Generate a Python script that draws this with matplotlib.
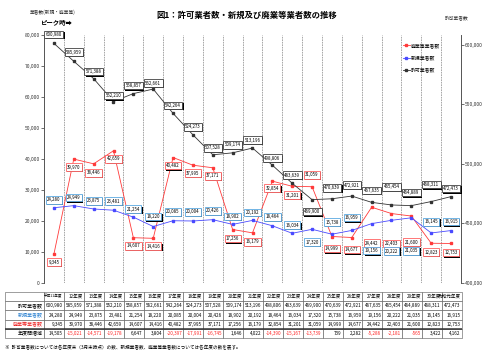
import numpy as np
import matplotlib
matplotlib.use('Agg')
import matplotlib.pyplot as plt
from matplotlib import patheffects
from matplotlib.ticker import FuncFormatter

plt.rcParams['font.family'] = ['Noto Sans CJK JP', 'DejaVu Sans']

years = ['平成11年度', '12年度', '13年度', '14年度', '15年度', '16年度', '17年度', '18年度',
         '19年度', '20年度', '21年度', '22年度', '23年度', '24年度', '25年度', '26年度',
         '27年度', '28年度', '29年度', '30年度', '令和元年度']
kyoka = [600980, 585959, 571388, 552210, 558857, 562661, 542264, 524273, 507528, 509174, 513196,
         498806, 483639, 469900, 470639, 472921, 467635, 465454, 464889, 468311, 472473]
shinki = [24280, 24949, 23875, 23481, 21254, 18220, 20085, 20004, 20426, 18902, 20192,
          18464, 16034, 17320, 15738, 16959, 19156, 20222, 21035, 16145, 16915]
haigyo = [9345, 39970, 38446, 42659, 14607, 14416, 40482, 37995, 37171, 17256, 16179,
          32854, 31201, 31059, 14999, 14677, 24442, 22403, 21600, 12823, 12753]
zougen = [14505, -15021, -14571, -19178, 6647, 3804, -20397, -17991, -16745, 1646, 4022,
          -14390, -15167, -13739, 739, 2282, -5286, -2181, -565, 3422, 4162]

# label offsets in pixels (+ above the point, - below)
kyoka_off = [9, 9, 7, 6, 8, 6, 8, 8, 7, 8, 8, 7, 8, -12, 11, 11, 12, 18, 13, 17, 8]
shinki_off = [8, 8, 8, 9, 8, 10, 9, 9, 9, 8, 8, 9, 8, -13, 12, 13, -27, -31, -33, 11, 9]
haigyo_off = [-8, -8, -9, -8, -8, -8, -8, -8, -8, -9, -9, -7, -9, 12, -12, -12, -36, -30, -26, -9, -9]

RED = '#ff3a3a'
BLUE = '#4a4aff'
BLACK = '#333333'

fig = plt.figure(figsize=(5, 3.54), dpi=100)
ax = fig.add_axes([44 / 500, 1 - 283 / 354, 417 / 500, 248 / 354])
x = np.arange(len(years))
ax.set_xlim(-0.5, len(years) - 0.5)
ax.set_ylim(0, 80000)
ax2 = ax.twinx()
ax2.set_ylim(400000, 608000)

# vertical separators between years
ax.set_xticks(x[:-1] + 0.5)
ax.set_xticklabels([])
ax.tick_params(axis='x', length=0)
ax.grid(axis='x', color='#9a9a9a', lw=0.6, ls=(0, (2, 1)))

fmt = FuncFormatter(lambda v, p: f'{v:,.0f}')
ax.set_yticks(np.arange(0, 80001, 10000))
ax.yaxis.set_major_formatter(fmt)
ax.tick_params(axis='y', labelsize=3.6, length=2, width=0.5, pad=1, colors='#333333')
ax2.set_yticks(np.arange(400000, 600001, 50000))
ax2.yaxis.set_major_formatter(fmt)
ax2.tick_params(axis='y', labelsize=3.6, length=2, width=0.5, pad=1, colors='#333333')
for a in (ax, ax2):
    a.spines['top'].set_visible(False)
    a.spines['bottom'].set_visible(False)
    a.spines['left'].set_color('#555555')
    a.spines['right'].set_color('#555555')
    a.spines['left'].set_linewidth(0.6)
    a.spines['right'].set_linewidth(0.6)

l_red, = ax.plot(x, haigyo, '-s', color=RED, lw=0.6, ms=1.6, label='廃業等業者数')
l_blue, = ax.plot(x, shinki, '-s', color=BLUE, lw=0.6, ms=1.6, label='新規業者数')
l_black, = ax2.plot(x, kyoka, '-s', color=BLACK, lw=0.6, ms=1.6, label='許可業者数')


def add_labels(a, vals, offs, ec):
    for xi, v, off in zip(x, vals, offs):
        t = a.annotate(f'{v:,}', (xi, v), xytext=(0, off), textcoords='offset pixels',
                       ha='center', va='center', fontsize=3.2, zorder=6,
                       bbox=dict(boxstyle='square,pad=0.3', fc='white', ec=ec, lw=0.6))
        t.get_bbox_patch().set_path_effects(
            [patheffects.withSimplePatchShadow(offset=(0.9, -0.9), shadow_rgbFace='black', alpha=1.0)])


add_labels(ax, haigyo, haigyo_off, '#ff6060')
add_labels(ax, shinki, shinki_off, '#5aa8e0')
add_labels(ax2, kyoka, kyoka_off, '#404040')

ax2.legend([l_red, l_blue, l_black], ['廃業等業者数', '新規業者数', '許可業者数'],
           loc='upper left', bbox_to_anchor=(403 / 500, 1 - 43 / 354), bbox_transform=fig.transFigure,
           frameon=False, fontsize=3.5, handlelength=1.4, handletextpad=0.3, labelspacing=1.5,
           borderpad=0, borderaxespad=0)

fig.text(0.494, 1 - 15 / 354, '図1：許可業者数・新規及び廃業等業者数の推移', ha='center', va='center',
         fontsize=6, fontweight='bold')
fig.text(30 / 500, 1 - 12 / 354, '業者数(新規・廃業等)', fontsize=3.4, va='center', color='#333333')
fig.text(40 / 500, 1 - 23 / 354, 'ピーク時➡', fontsize=4.6, va='center', fontweight='bold')
fig.text(445 / 500, 1 - 18 / 354, '許可業者数', fontsize=3.4, va='center', color='#333333')

# data table under the chart
tab_ax = fig.add_axes([5 / 500, 1 - 338 / 354, 457 / 500, 46 / 354])
tab_ax.axis('off')
rows = [[''] + years,
        ['許可業者数'] + [f'{v:,}' for v in kyoka],
        ['新規業者数'] + [f'{v:,}' for v in shinki],
        ['廃業等業者数'] + [f'{v:,}' for v in haigyo],
        ['年度間増減'] + [f'{v:,}' for v in zougen]]
colw = [39 / 457] + [417 / 21 / 457] * len(years)
table = tab_ax.table(cellText=rows, colWidths=colw, bbox=[0, 0, 1, 1], cellLoc='right')
table.auto_set_font_size(False)
table.set_fontsize(3.3)
row_colors = {2: '#2a80d0', 3: '#ee2020'}
for (r, c), cell in table.get_celld().items():
    cell.set_linewidth(0.4)
    cell.set_edgecolor('#555555')
    cell.PAD = 0.06
    if c == 0:
        cell._loc = 'left'
        cell.PAD = 0.03
        cell.get_text().set_color(row_colors.get(r, 'black'))
        cell.get_text().set_fontsize(3.6)
    if r == 0:
        cell._loc = 'center'
        cell.get_text().set_fontsize(2.6 if c == 1 else 3.3)
    if r == 4 and c > 0 and zougen[c - 1] < 0:
        cell.get_text().set_color('#ff2020')
tab_ax.axhline(0.2, color='#333333', lw=1.1)

fig.text(5 / 500, 1 - 347 / 354,
         '※  許可業者数については各年度末（3月末時点）の数、新規業者数、廃業等業者数については各年度の数を表す。',
         fontsize=3.3, va='center')

fig.savefig('out.png', dpi=100)
